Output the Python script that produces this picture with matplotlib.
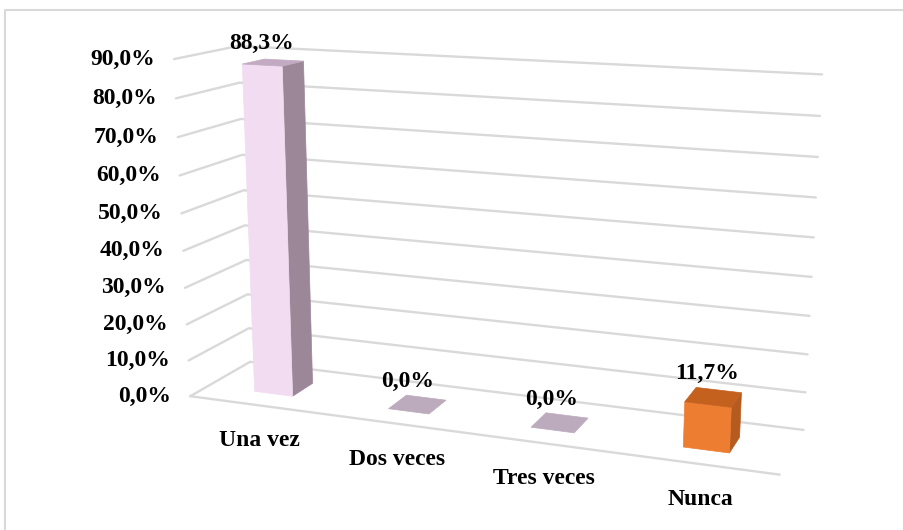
"""
3D-look column chart (Excel style) drawn on a flat pixel canvas.
A pinhole camera is fitted to the frame corners, then bars and text
are projected through it.
"""

import numpy as np
import matplotlib
matplotlib.use("Agg")
import matplotlib.pyplot as plt
from matplotlib.patches import Polygon

plt.rcParams.update({
    "font.family": ["Liberation Serif", "DejaVu Serif"],
    "font.weight": "bold",
})

# ── data ──────────────────────────────────────────────────────────────
categories = ["Una vez", "Dos veces", "Tres veces", "Nunca"]
values = [88.3, 0.0, 0.0, 11.7]          # percent
ticks = [0, 10, 20, 30, 40, 50, 60, 70, 80, 90]

# face colours per bar: front, side, top
FRONT = ["#f1dcf1", "#bcaabd", "#bcaabd", "#ed7d31"]
SIDE = ["#9c8799", "#9c8799", "#9c8799", "#b65b1f"]
TOP = ["#c2abc2", "#bcaabd", "#bcaabd", "#c4611f"]
GRID = "#d9d9d9"

W, H = 904, 530

# ── camera: frame corners (X=category axis 0..4, Y=depth 0..1, Z=%) ──
frame_world = [
    (0, 0, 0), (0, 0, 40), (0, 0, 80), (0, 0, 90),
    (0, 1, 0), (0, 1, 80), (0, 1, 90),
    (4, 1, 0), (4, 1, 10), (4, 1, 20), (4, 1, 60), (4, 1, 70),
    (4, 1, 80), (4, 1, 90),
    (4, 0, 0),
]
frame_px = [
    (191, 397), (182, 249), (177, 98), (173, 61),
    (250, 362), (240, 82), (238, 46),
    (803, 430), (805, 393), (808, 354), (816, 198), (818, 157),
    (820, 117), (822, 73),
    (780, 474),
]


def fit_camera(world, px):
    rows = []
    for (X, Y, Z), (u, v) in zip(world, px):
        Z = Z / 100.0
        u = (u - 450) / 450.0
        v = (v - 265) / 450.0
        rows.append([X, Y, Z, 1, 0, 0, 0, 0, -u * X, -u * Y, -u * Z, -u])
        rows.append([0, 0, 0, 0, X, Y, Z, 1, -v * X, -v * Y, -v * Z, -v])
    _, _, vt = np.linalg.svd(np.array(rows, dtype=float))
    return vt[-1].reshape(3, 4)


CAM = fit_camera(frame_world, frame_px)


def proj(X, Y, Z):
    p = CAM @ np.array([X, Y, Z / 100.0, 1.0])
    return p[0] / p[2] * 450 + 450, p[1] / p[2] * 450 + 265


def face(ax, pts, color, z=3):
    ax.add_patch(Polygon([proj(*p) for p in pts], closed=True,
                         facecolor=color, edgecolor=color, lw=0.5,
                         zorder=z))


fig = plt.figure(figsize=(W / 100, H / 100), dpi=100)
ax = fig.add_axes([0, 0, 1, 1])
ax.set_xlim(0, W)
ax.set_ylim(H, 0)
ax.axis("off")

# chart border
ax.plot([5, 5, W], [H, 10, 10], color=GRID, lw=1.5, zorder=1)

NCAT = len(categories)

# gridlines on left wall + back wall, labels on left
for t in ticks:
    pts = [proj(0, 0, t), proj(0, 1, t), proj(NCAT, 1, t)]
    ax.plot([p[0] for p in pts], [p[1] for p in pts], color=GRID,
            lw=1.7, zorder=2, solid_capstyle="round")
    x0, y0 = proj(0, 0, t)
    ax.text(x0 - 19, y0, f"{t:.1f}%".replace(".", ","), ha="right",
            va="center", fontsize=17)

# floor front edge
a, b = proj(0, 0, 0), proj(NCAT, 0, 0)
ax.plot([a[0], b[0]], [a[1], b[1]], color=GRID, lw=1.7, zorder=2)

# bars
BW = 0.29              # bar width in category units
Y0, Y1 = 0.30, 0.66    # bar depth span
for i, (cat, v) in enumerate(zip(categories, values)):
    xl, xr = i + 0.5 - BW / 2, i + 0.5 + BW / 2
    if v > 0:
        face(ax, [(xr, Y0, 0), (xr, Y1, 0), (xr, Y1, v), (xr, Y0, v)],
             SIDE[i])
        face(ax, [(xl, Y0, 0), (xr, Y0, 0), (xr, Y0, v), (xl, Y0, v)],
             FRONT[i], z=4)
    face(ax, [(xl, Y0, v), (xr, Y0, v), (xr, Y1, v), (xl, Y1, v)],
         TOP[i], z=4)

    lx, _ = proj(i + 0.5, Y0, v)
    _, ly = proj(i + 0.5, Y1, v)
    ax.text(lx - 1, ly - 6, f"{v:.1f}%".replace(".", ","), ha="center",
            va="bottom", fontsize=17, zorder=6)

    cx, cy = proj(i + 0.5, 0, 0)
    ax.text(cx + 4, cy + 36, cat, ha="center", va="center", fontsize=17,
            zorder=6)

fig.savefig("out.png", dpi=100, facecolor="white")
